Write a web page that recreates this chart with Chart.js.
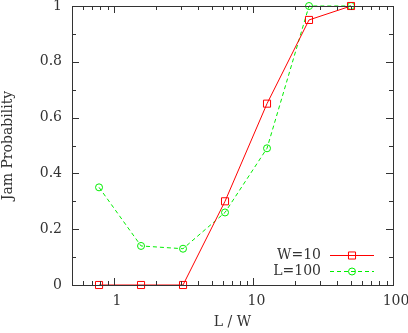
<!DOCTYPE html>
<html><head><meta charset="utf-8">
<script src="https://cdn.jsdelivr.net/npm/chart.js@4/dist/chart.umd.min.js"></script>
<style>html,body{margin:0;padding:0;background:#fff}#wrap{width:408px;height:333px}</style>
</head><body><div id="wrap"><canvas id="c"></canvas></div>
<script>
const xValues = [0.78125, 1.5625, 3.125, 6.25, 12.5, 25, 50];
const seriesW10 = [0, 0, 0, 0.30, 0.65, 0.95, 1.0];
const seriesL100 = [0.35, 0.14, 0.13, 0.26, 0.49, 1.0, 1.0];
const xTickLabels = [1, 10, 100];
const yTickLabels = [0, 0.2, 0.4, 0.6, 0.8, 1];
const legendLabels = ['W=10', 'L=100'];
const FONT = 'DejaVu Serif';
const FS = 14;
const TXT = '#333333';
const AX = '#333333';

const frameTicks = {
  id: 'frameTicks',
  afterDatasetsDraw(chart) {
    const {ctx, chartArea: a, scales: {x, y}} = chart;
    ctx.save();
    ctx.strokeStyle = AX; ctx.lineWidth = 1;
    ctx.beginPath();
    for (let d = -1; d <= 2; d++) {
      for (let m = 1; m <= 9; m++) {
        const v = m * Math.pow(10, d);
        if (v < x.min - 1e-9 || v > x.max + 1e-9) continue;
        const px = Math.round(x.getPixelForValue(v)) + 0.5;
        const len = m === 1 ? 7 : 4;
        ctx.moveTo(px, a.bottom); ctx.lineTo(px, a.bottom - len);
        ctx.moveTo(px, a.top); ctx.lineTo(px, a.top + len);
      }
    }
    for (let i = 0; i <= 10; i++) {
      const v = i / 10;
      const py = Math.round(y.getPixelForValue(v)) + 0.5;
      const len = i % 2 === 0 ? 7 : 4;
      ctx.moveTo(a.left, py); ctx.lineTo(a.left + len, py);
      ctx.moveTo(a.right, py); ctx.lineTo(a.right - len, py);
    }
    ctx.stroke();
    ctx.strokeRect(Math.round(a.left) + 0.5, Math.round(a.top) + 0.5, Math.round(a.right - a.left), Math.round(a.bottom - a.top));
    ctx.restore();
  },
  afterDraw(chart) {
    const {ctx} = chart;
    ctx.save();
    ctx.font = FS + 'px "' + FONT + '"';
    ctx.textAlign = 'right'; ctx.textBaseline = 'middle';
    const rows = [255, 271];
    chart.data.datasets.forEach((ds, i) => {
      const yy = rows[i];
      ctx.fillStyle = TXT;
      ctx.fillText(legendLabels[i], 321, yy);
      ctx.strokeStyle = ds.borderColor; ctx.lineWidth = 1;
      ctx.setLineDash(ds.borderDash || []);
      ctx.beginPath(); ctx.moveTo(330, yy + 0.5); ctx.lineTo(374, yy + 0.5); ctx.stroke();
      ctx.setLineDash([]);
      ctx.fillStyle = 'rgba(0,0,0,0)';
      Chart.helpers.drawPoint(ctx, {pointStyle: ds.pointStyle, radius: ds.pointRadius, borderWidth: 1, rotation: 0}, 352, yy + 0.5);
    });
    ctx.restore();
  }
};

new Chart(document.getElementById('c'), {
  type: 'line',
  data: {
    datasets: [
      { label: legendLabels[0], data: xValues.map((v, i) => ({x: v, y: seriesW10[i]})),
        borderColor: '#ff0000', backgroundColor: 'transparent', borderWidth: 1,
        pointStyle: 'rect', pointRadius: 5, pointBorderColor: '#ff0000', pointBackgroundColor: 'transparent', pointBorderWidth: 1, clip: false },
      { label: legendLabels[1], data: xValues.map((v, i) => ({x: v, y: seriesL100[i]})),
        borderColor: '#00ee00', backgroundColor: 'transparent', borderWidth: 1, borderDash: [4, 3],
        pointStyle: 'circle', pointRadius: 3.5, pointBorderColor: '#00ee00', pointBackgroundColor: 'transparent', pointBorderWidth: 1, clip: false }
    ]
  },
  options: {
    responsive: true, maintainAspectRatio: false, animation: false,
    layout: { padding: { top: 6, right: 15, left: 0, bottom: 0 } },
    plugins: { legend: { display: false }, tooltip: { enabled: false } },
    scales: {
      x: {
        type: 'logarithmic', min: 0.5, max: 100,
        afterBuildTicks: s => { s.ticks = xTickLabels.map(v => ({value: v})); },
        afterFit: s => { s.height = 48; s.paddingLeft = 0; s.paddingRight = 0; },
        grid: { display: false, drawTicks: false }, border: { display: false },
        ticks: { color: TXT, padding: 8, labelOffset: 3, maxRotation: 0, autoSkip: false, font: { family: FONT, size: FS }, callback: v => String(v) },
        title: { display: true, text: 'L / W', color: TXT, padding: { top: 0, bottom: 2 }, font: { family: FONT, size: FS } }
      },
      y: {
        type: 'linear', min: 0, max: 1,
        afterBuildTicks: s => { s.ticks = yTickLabels.map(v => ({value: v})); },
        afterFit: s => { s.width = 72; s.paddingTop = 0; s.paddingBottom = 0; },
        grid: { display: false, drawTicks: false }, border: { display: false },
        ticks: { color: TXT, padding: 10, font: { family: FONT, size: FS }, callback: v => String(+v.toFixed(1)) },
        title: { display: true, text: 'Jam Probability', color: TXT, padding: { top: 0, bottom: 0 }, font: { family: FONT, size: FS } }
      }
    }
  },
  plugins: [frameTicks]
});
</script></body></html>
